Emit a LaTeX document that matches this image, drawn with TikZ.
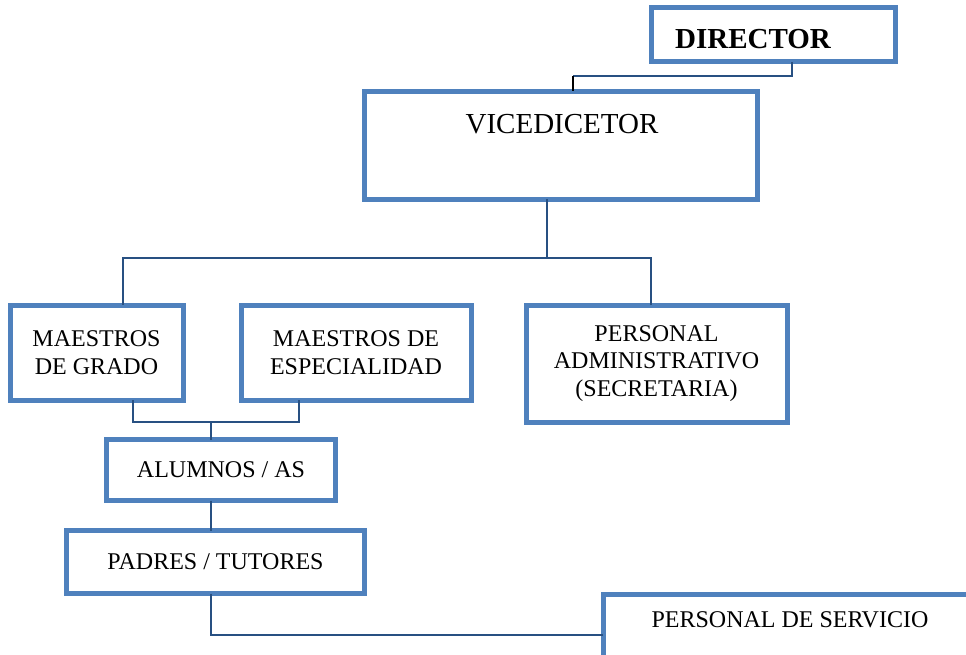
\documentclass[tikz,border=0pt]{standalone}
\usepackage{fontspec}
\setmainfont{Liberation Serif}
\definecolor{boxblue}{RGB}{79,129,189}
\definecolor{linkblue}{RGB}{40,80,130}
\tikzset{
  box/.style={draw=boxblue, line width=5pt, fill=white, rectangle, outer sep=0pt, inner sep=0pt, align=center,
    font=\fontsize{24}{27.5}\selectfont},
  lbl/.style={inner sep=0pt, outer sep=0pt, align=center, font=\fontsize{24}{27.5}\selectfont},
  conn/.style={draw=linkblue, line width=2pt}
}
\begin{document}
\begin{tikzpicture}[x=1pt,y=-1pt]
\useasboundingbox (0,0) rectangle (966,655);
\clip (0,0) rectangle (966,655);
% boxes
\node[box, minimum width=244pt, minimum height=54pt] (dir) at (773,35) {};
\node[lbl, font=\fontsize{29}{33}\selectfont\bfseries] (dirt) at (753,39) {DIRECTOR};
\node[box, minimum width=393pt, minimum height=108pt] (vice) at (561,145.5) {};
\node[lbl, font=\fontsize{29}{33}\selectfont] (vicet) at (562,124) {VICEDICETOR};
\node[box, minimum width=173pt, minimum height=95pt] (mg) at (96.5,352.5) {MAESTROS\\DE GRADO};
\node[box, minimum width=230pt, minimum height=95pt] (me) at (356,352.5) {MAESTROS DE\\ESPECIALIDAD};
\node[box, minimum width=261pt, minimum height=117pt] (pa) at (656.5,363.5) {PERSONAL\\ADMINISTRATIVO\\(SECRETARIA)};
\node[box, minimum width=229pt, minimum height=61pt] (al) at (221,470) {ALUMNOS / AS};
\node[box, minimum width=298pt, minimum height=63pt] (pt) at (215.5,562) {PADRES / TUTORES};
\node[box, minimum width=400pt, minimum height=82pt] (ps) at (803,635) {};
\node[lbl] (pst) at (790,620) {PERSONAL DE SERVICIO};
% connectors
\path ([xshift=12pt]vice.north) ++(0,-15.5) coordinate (j1);
\draw[conn] ([xshift=19pt]dir.south) |- (j1);
\draw[line width=2pt, black] (j1) -- ([xshift=12pt]vice.north);
\path ([xshift=-14pt]vice.south) ++(0,58.5) coordinate (j2);
\draw[conn] ([xshift=-14pt]vice.south) -- (j2);
\draw[conn] ([xshift=26.5pt]mg.north) |- (j2) -| ([xshift=-5.5pt]pa.north);
\path ([xshift=-10pt]al.north) ++(0,-17.5) coordinate (j3);
\draw[conn] ([xshift=36.5pt]mg.south) |- (j3) -| ([xshift=-57pt]me.south);
\draw[conn] (j3) -- ([xshift=-10pt]al.north);
\draw[conn] ([xshift=-10pt]al.south) -- ([xshift=-10pt]al.south |- pt.north);
\draw[conn] ([xshift=-4.5pt]pt.south) |- (ps.west);
\end{tikzpicture}
\end{document}
